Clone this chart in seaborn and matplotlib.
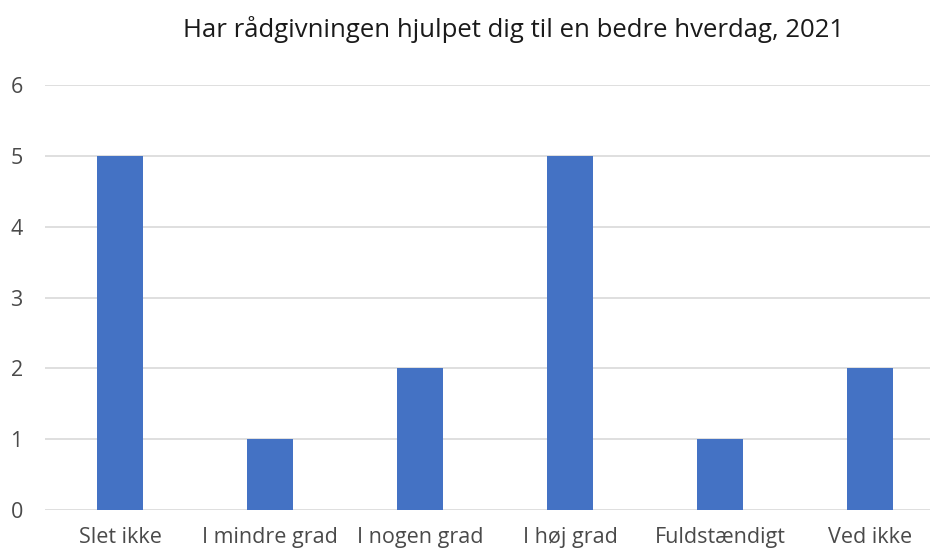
import numpy as np
import pandas as pd
import seaborn as sns
import matplotlib.pyplot as plt

kategorier = ['Slet ikke', 'I mindre grad', 'I nogen grad', 'I høj grad', 'Fuldstændigt', 'Ved ikke']
antal = [5, 1, 2, 5, 1, 2]
titel = 'Har rådgivningen hjulpet dig til en bedre hverdag, 2021'

df = pd.DataFrame({'svar': kategorier, 'antal': antal})

sns.set_style('white')
plt.rcParams['font.family'] = ['Open Sans', 'DejaVu Sans']

fig = plt.figure(figsize=(9.3, 5.52), dpi=100)
ax = fig.add_axes([0.0484, 0.076, 0.9516, 0.77])

sns.barplot(data=df, x='svar', y='antal', color='#4472C4', width=0.31,
            saturation=1, linewidth=0, ax=ax, zorder=3)

ax.set_ylim(0, 6)
ax.set_xlim(-0.5, 5.4)
ax.set_yticks(range(0, 7))
ax.yaxis.grid(True, color='#D9D9D9', linewidth=1.2, zorder=0)
ax.set_axisbelow(True)
for s in ax.spines.values():
    s.set_visible(False)
ax.set_xlabel('')
ax.set_ylabel('')
ax.tick_params(axis='both', length=0, labelsize=15.5, labelcolor='#4a4a4a')
ax.tick_params(axis='y', pad=16)
ax.tick_params(axis='x', pad=12)

fig.text(0.552, 0.946, titel, ha='center', va='center', fontsize=18.5, color='#1a1a1a')

fig.savefig('out.png', dpi=100)
